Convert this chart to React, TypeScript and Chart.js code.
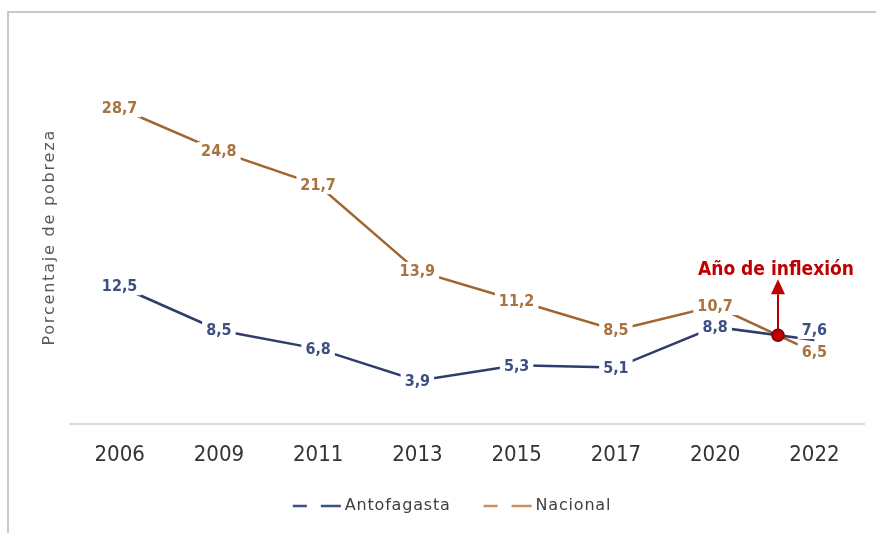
import React, { useEffect, useRef } from "react";
import { Chart, registerables } from "chart.js";

Chart.register(...registerables);

const years = ["2006", "2009", "2011", "2013", "2015", "2017", "2020", "2022"];
const antofagasta = [12.5, 8.5, 6.8, 3.9, 5.3, 5.1, 8.8, 7.6];
const nacional = [28.7, 24.8, 21.7, 13.9, 11.2, 8.5, 10.7, 6.5];
const seriesNames = ["Antofagasta", "Nacional"];
const yAxisTitle = "Porcentaje de pobreza";
const inflectionLabel = "Año de inflexión";
const yRange = [0, 35];

const ANTO_LINE = "#2E3D6B";
const ANTO_LABEL = "#3D4F83";
const ANTO_LEGEND = "#3A5186";
const NAC_LINE = "#A2652F";
const NAC_LABEL = "#A8733F";
const NAC_LEGEND = "#D48E58";

const fmt = (v: number) => v.toFixed(1).replace(".", ",");

const decorPlugin = {
  id: "decor",
  beforeDraw(chart: any) {
    const { ctx, width, height, chartArea } = chart;
    ctx.save();
    ctx.fillStyle = "#ffffff";
    ctx.fillRect(0, 0, width, height);
    // frame
    ctx.strokeStyle = "#c8c8c8";
    ctx.lineWidth = 2;
    ctx.beginPath();
    ctx.moveTo(8, height);
    ctx.lineTo(8, 12);
    ctx.lineTo(width, 12);
    ctx.stroke();
    // y title
    ctx.translate(50, (chartArea.top + chartArea.bottom) / 2 + 6);
    ctx.rotate(-Math.PI / 2);
    ctx.font = '16px "DejaVu Sans"';
    (ctx as any).letterSpacing = "1.8px";
    ctx.fillStyle = "#595959";
    ctx.textAlign = "center";
    ctx.textBaseline = "middle";
    ctx.fillText(yAxisTitle, 0, 0);
    ctx.restore();
  },
  afterDatasetsDraw(chart: any) {
    const { ctx } = chart;
    const xs = chart.scales.x;
    const ys = chart.scales.y;
    // inflection point between the last two categories
    const i = 6;
    const d0 = nacional[i] - antofagasta[i];
    const d1 = nacional[i + 1] - antofagasta[i + 1];
    const t = d0 / (d0 - d1);
    const v = antofagasta[i] + t * (antofagasta[i + 1] - antofagasta[i]);
    const px = xs.getPixelForValue(i) + t * (xs.getPixelForValue(i + 1) - xs.getPixelForValue(i));
    const py = ys.getPixelForValue(v);

    ctx.save();
    // data labels
    ctx.font = 'bold 16px "DejaVu Sans Condensed"';
    ctx.textAlign = "center";
    ctx.textBaseline = "middle";
    chart.data.datasets.forEach((ds: any, di: number) => {
      const meta = chart.getDatasetMeta(di);
      meta.data.forEach((pt: any, k: number) => {
        const txt = fmt(ds.data[k]);
        let dy = 0;
        if (di === 0 && k === ds.data.length - 1) dy = -10;
        const w = ctx.measureText(txt).width;
        const x = pt.x;
        const y = pt.y + dy;
        ctx.fillStyle = "#ffffff";
        ctx.fillRect(x - w / 2 - 4, y - 9, w + 8, 18);
        ctx.fillStyle = di === 0 ? ANTO_LABEL : NAC_LABEL;
        ctx.fillText(txt, x, y + 1);
      });
    });

    // arrow
    ctx.strokeStyle = "#B00000";
    ctx.fillStyle = "#C00000";
    ctx.lineWidth = 2;
    ctx.beginPath();
    ctx.moveTo(px, py - 4);
    ctx.lineTo(px, py - 41);
    ctx.stroke();
    ctx.beginPath();
    ctx.moveTo(px, py - 56);
    ctx.lineTo(px - 7, py - 41);
    ctx.lineTo(px + 7, py - 41);
    ctx.closePath();
    ctx.fill();
    // dot
    ctx.beginPath();
    ctx.arc(px, py, 6, 0, Math.PI * 2);
    ctx.fillStyle = "#C00000";
    ctx.fill();
    ctx.strokeStyle = "#7A0000";
    ctx.lineWidth = 1.5;
    ctx.stroke();
    // text
    ctx.font = 'bold 19px "DejaVu Sans Condensed"';
    ctx.fillStyle = "#C00000";
    ctx.textBaseline = "alphabetic";
    ctx.fillText(inflectionLabel, px - 2, py - 60);
    ctx.restore();
  },
  afterDraw(chart: any) {
    const { ctx } = chart;
    ctx.save();
    ctx.font = '16px "DejaVu Sans"';
    (ctx as any).letterSpacing = "0.8px";
    const colors = [ANTO_LEGEND, NAC_LEGEND];
    const marker = 48;
    const textGap = 4;
    const itemGap = 33;
    const widths = seriesNames.map((n) => ctx.measureText(n).width);
    const total = widths.reduce((a, b) => a + b, 0) + seriesNames.length * (marker + textGap) + itemGap * (seriesNames.length - 1);
    let x = 452 - total / 2;
    const y = 506;
    seriesNames.forEach((name, k) => {
      ctx.strokeStyle = colors[k];
      ctx.lineWidth = 2.5;
      ctx.beginPath();
      ctx.moveTo(x, y);
      ctx.lineTo(x + 14, y);
      ctx.moveTo(x + 28, y);
      ctx.lineTo(x + marker, y);
      ctx.stroke();
      x += marker + textGap;
      ctx.fillStyle = "#404040";
      ctx.textBaseline = "middle";
      ctx.textAlign = "left";
      ctx.fillText(name, x, y);
      x += widths[k] + itemGap;
    });
    ctx.restore();
  },
};

export default function App() {
  const ref = useRef<HTMLCanvasElement>(null);
  useEffect(() => {
    if (!ref.current) return;
    const chart = new Chart(ref.current, {
      type: "line",
      data: {
        labels: years,
        datasets: [
          { label: seriesNames[0], data: antofagasta, borderColor: ANTO_LINE, borderWidth: 2.5, pointRadius: 0, tension: 0, fill: false },
          { label: seriesNames[1], data: nacional, borderColor: NAC_LINE, borderWidth: 2.5, pointRadius: 0, tension: 0, fill: false },
        ],
      },
      options: {
        animation: false,
        responsive: false,
        layout: { padding: { left: 70, right: 12, top: 39, bottom: 47 } },
        plugins: { legend: { display: false }, tooltip: { enabled: false } },
        scales: {
          x: {
            offset: true,
            grid: { display: false, drawTicks: false, offset: true },
            border: { display: true, color: "#d9d9d9", width: 2 },
            ticks: { padding: 18, color: "#333333", font: { family: '"DejaVu Sans Condensed"', size: 22 } },
          },
          y: { display: false, min: yRange[0], max: yRange[1] },
        },
      },
      plugins: [decorPlugin],
    });
    return () => chart.destroy();
  }, []);
  return (
    <div style={{ position: "fixed", left: 0, top: 0, width: 876, height: 533, background: "#fff" }}>
      <canvas ref={ref} width={876} height={533} />
    </div>
  );
}
